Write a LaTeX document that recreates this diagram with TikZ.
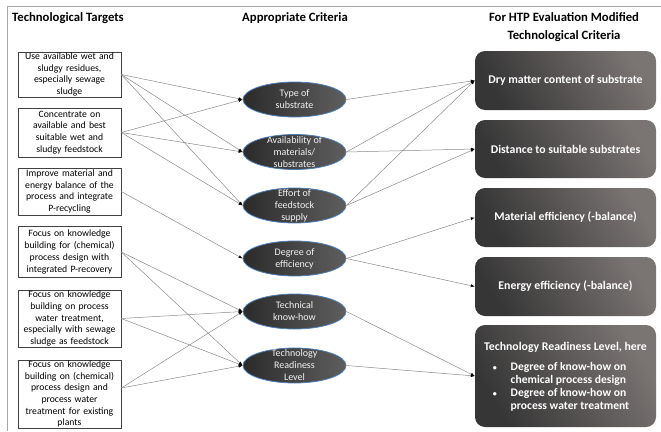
\documentclass[tikz,border=0pt]{standalone}
\usepackage{fontspec}
\setmainfont{Carlito}
\usetikzlibrary{shapes.geometric,arrows.meta,calc}
\definecolor{ellL}{HTML}{2B2B2B}
\definecolor{ellR}{HTML}{5E5E5E}
\definecolor{ellB}{HTML}{4F7FB8}
\definecolor{rbD}{HTML}{363636}
\definecolor{rbL}{HTML}{7A7472}
\definecolor{frameC}{HTML}{A8A8A8}
\definecolor{lineC}{HTML}{8A8A8A}
\definecolor{ellT}{HTML}{F2F2F2}
\begin{document}
\begin{tikzpicture}[x=1pt,y=-1pt,
  lbox/.style={draw=black!75, line width=0.6pt, minimum width=103pt, text width=99pt,
    align=center, inner xsep=1.5pt, inner ysep=0.3pt, font=\fontsize{9.7}{11.7}\selectfont},
  ell/.style={ellipse, draw=ellB, line width=0.8pt, left color=ellL, right color=ellR,
    minimum width=103pt, minimum height=35pt, inner sep=0pt},
  elltext/.style={text=ellT, align=center, font=\fontsize{10}{12}\selectfont},
  rbox/.style={rounded corners=10pt, left color=rbD, right color=rbL, shading angle=120,
    minimum width=181pt, inner sep=0pt, text=white, align=center,
    font=\fontsize{11.8}{14}\selectfont\bfseries},
  rtext/.style={text=white, font=\fontsize{11.6}{13.6}\selectfont\bfseries, inner sep=0pt},
  head/.style={font=\fontsize{12.7}{18}\selectfont\bfseries, align=center},
  conn/.style={draw=lineC, line width=0.5pt, -{Latex[length=4pt,width=3pt,fill=black,color=black]}}
]
\useasboundingbox (0,0) rectangle (661,431);
\draw[frameC, line width=0.9pt] (7,431) -- (7,6) -- (661,6);

% headers
\node[head, anchor=west, inner sep=0pt] (h1) at (12,18) {Technological Targets};
\node[head] (h2) at (295,18) {Appropriate Criteria};
\node[head] (h3) at (564,27) {For HTP Evaluation Modified\\Technological Criteria};

% left boxes
\node[lbox, minimum height=45pt] (b1) at (69.5,74.5) {Use available wet and\\sludgy residues,\\especially sewage\\sludge};
\node[lbox, minimum height=49pt] (b2) at (69.5,132.5) {Concentrate on\\available and best\\suitable wet and\\sludgy feedstock};
\node[lbox, minimum height=47pt] (b3) at (69.5,191.5) {Improve material and\\energy balance of the\\process and integrate\\P-recycling};
\node[lbox, minimum height=51pt] (b4) at (69.5,252) {Focus on knowledge\\building for (chemical)\\process design with\\integrated P-recovery};
\node[lbox, minimum height=57pt] (b5) at (69.5,318.5) {Focus on knowledge\\building on process\\water treatment,\\especially with sewage\\sludge as feedstock};
\node[lbox, minimum height=68pt] (b6) at (69.5,394) {Focus on knowledge\\building on (chemical)\\process design and\\process water\\treatment for existing\\plants};
\coordinate (b6o) at ($(b6.east)+(0,-6)$);

% ellipses
\node[ell] (e1) at (294.5,99.5) {};
\node[ell] (e2) at (294.5,152) {};
\node[ell] (e3) at (294.5,205.5) {};
\node[ell] (e4) at (294.5,258.5) {};
\node[ell] (e5) at (294.5,311.5) {};
\node[ell] (e6) at (294.5,365.5) {};
\node[elltext] (t1) at (e1) {Type of\\substrate};
\node[elltext] (t2) at (e2) {Availability of\\materials/\\substrates};
\node[elltext] (t3) at (e3) {Effort of\\feedstock\\supply};
\node[elltext] (t4) at (e4) {Degree of\\efficiency};
\node[elltext] (t5) at (e5) {Technical\\know-how};
\node[elltext] (t6) at (e6) {Technology\\Readiness\\Level};

% right boxes
\node[rbox, minimum height=59pt] (rA) at (565.5,80.5) {Dry matter content of substrate};
\node[rbox, minimum height=58pt] (rB) at (565.5,149) {Distance to suitable substrates};
\node[rbox, minimum height=59pt] (rC) at (565.5,217.5) {Material efficiency (-balance)};
\node[rbox, minimum height=59pt] (rD) at (565.5,286.5) {Energy efficiency (-balance)};
\node[rbox, minimum height=102pt] (rE) at (565.5,376) {};
\node[rtext, font=\fontsize{11.8}{14}\selectfont\bfseries] (rEh) at (565.5,347) {Technology Readiness Level, here};
\node[rtext] (rEb) at (561,387)
  {\begin{tabular}{@{}l@{\hspace{14pt}}l@{}}{\fontsize{8}{8}\selectfont\textbullet} & Degree of know-how on\\[-0.5pt] & chemical process design\\[-0.5pt] {\fontsize{8}{8}\selectfont\textbullet} & Degree of know-how on\\[-0.5pt] & process water treatment\end{tabular}};

% left connectors
\draw[conn] (b1.east) -- (e1.west);
\draw[conn] (b1.east) -- (e2.west);
\draw[conn] (b1.east) -- (e3.west);
\draw[conn] (b2.east) -- (e1.west);
\draw[conn] (b2.east) -- (e2.west);
\draw[conn] (b2.east) -- (e3.west);
\draw[conn] (b3.east) -- (e4.west);
\draw[conn] (b4.east) -- (e5.west);
\draw[conn] (b4.east) -- (e6.west);
\draw[conn] (b5.east) -- (e5.west);
\draw[conn] (b5.east) -- (e6.west);
\draw[conn] (b6o) -- (e5.west);
\draw[conn] (b6o) -- (e6.west);

% right connectors
\draw[conn] (e1.east) -- (rA.west);
\draw[conn] (e2.east) -- (rA.west);
\draw[conn] (e3.east) -- (rA.west);
\draw[conn] (e2.east) -- (rB.west);
\draw[conn] (e3.east) -- (rB.west);
\draw[conn] (e4.east) -- (rC.west);
\draw[conn] (e4.east) -- (rD.west);
\draw[conn] (e5.east) -- (rE.west);
\draw[conn] (e6.east) -- (rE.west);
\end{tikzpicture}
\end{document}
